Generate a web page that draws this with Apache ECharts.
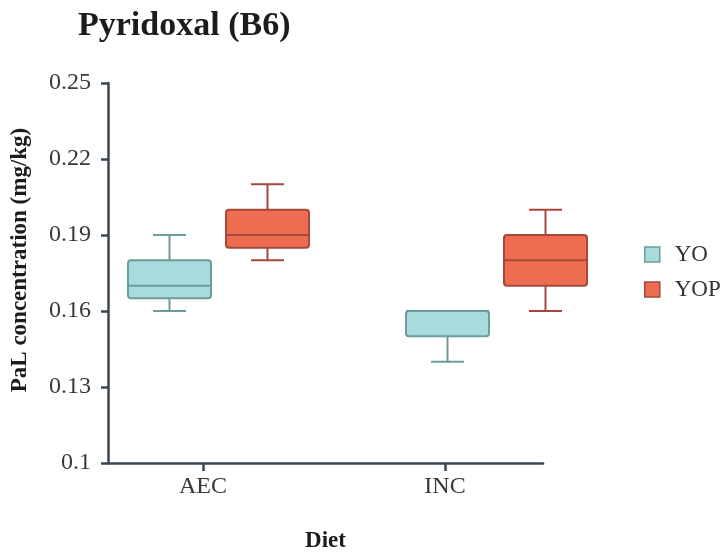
<!DOCTYPE html>
<html>
<head>
<meta charset="utf-8">
<script src="https://cdn.jsdelivr.net/npm/echarts@6/dist/echarts.min.js"></script>
<style>
  html, body { margin: 0; padding: 0; background: #ffffff; }
  #chart { width: 723px; height: 554px; }
</style>
</head>
<body>
<div id="chart"></div>
<script>
// ---- data ----
const categories = ['AEC', 'INC'];
const seriesNames = ['YO', 'YOP'];
// YO box statistics per category
const yoMin = [0.16, 0.14];
const yoQ1  = [0.165, 0.15];
const yoMed = [0.17, 0.16];
const yoQ3  = [0.18, 0.16];
const yoMax = [0.19, 0.16];
// YOP box statistics per category
const yopMin = [0.18, 0.16];
const yopQ1  = [0.185, 0.17];
const yopMed = [0.19, 0.18];
const yopQ3  = [0.20, 0.19];
const yopMax = [0.21, 0.20];
// y-axis tick labels
const yTicks = [0.1, 0.13, 0.16, 0.19, 0.22, 0.25];

// ---- styles ----
const FONT = 'Liberation Serif';
const AXIS_COLOR = '#3b4550';
const YO_FILL = '#a8dbdc', YO_STROKE = '#6e9c9c';
const YOP_FILL = '#ee6d51', YOP_STROKE = '#a4493b';
const BOX_W = 83, CAP_W = 33;

function rows(mins, q1s, meds, q3s, maxs) {
  return categories.map((c, i) => [i, mins[i], q1s[i], meds[i], q3s[i], maxs[i]]);
}

function makeRender(offset, fill, stroke) {
  return function (params, api) {
    const cat = api.value(0);
    const cx = api.coord([cat, api.value(1)])[0] + offset;
    const y = (k) => api.coord([cat, api.value(k)])[1];
    const yMin = y(1), yQ1 = y(2), yMed = y(3), yQ3 = y(4), yMax = y(5);
    const lw = 2;
    const line = (x1, y1, x2, y2) => ({
      type: 'line',
      shape: { x1, y1, x2, y2 },
      style: { stroke: stroke, lineWidth: lw }
    });
    return {
      type: 'group',
      children: [
        line(cx, yQ3, cx, yMax),
        line(cx - CAP_W / 2, yMax, cx + CAP_W / 2, yMax),
        line(cx, yQ1, cx, yMin),
        line(cx - CAP_W / 2, yMin, cx + CAP_W / 2, yMin),
        {
          type: 'rect',
          shape: { x: cx - BOX_W / 2, y: yQ3, width: BOX_W, height: yQ1 - yQ3, r: 3 },
          style: { fill: fill, stroke: stroke, lineWidth: lw }
        },
        line(cx - BOX_W / 2, yMed, cx + BOX_W / 2, yMed)
      ]
    };
  };
}

const chart = echarts.init(document.getElementById('chart'), null, { renderer: 'canvas' });

const option = {
  backgroundColor: '#ffffff',
  animation: false,
  title: {
    text: 'Pyridoxal (B6)',
    left: 73,
    top: 4,
    textStyle: { fontFamily: FONT, fontWeight: 'bold', fontSize: 34, color: '#1c1c1c' }
  },
  legend: {
    orient: 'vertical',
    left: 639,
    top: 238,
    itemWidth: 15,
    itemHeight: 15,
    itemGap: 12,
    textStyle: { fontFamily: FONT, fontSize: 23, color: '#333333', padding: [0, 0, 0, 10] },
    data: [
      { name: 'YO', icon: 'rect', itemStyle: { color: YO_FILL, borderColor: YO_STROKE, borderWidth: 1.5 } },
      { name: 'YOP', icon: 'rect', itemStyle: { color: YOP_FILL, borderColor: YOP_STROKE, borderWidth: 1.5 } }
    ]
  },
  grid: [
    { left: 108, top: 83, width: 435, height: 380, containLabel: false, outerBoundsMode: 'none' },   // visible frame
    { left: 82, top: 83, width: 484, height: 380, containLabel: false, outerBoundsMode: 'none' },    // visible category ticks/labels
    { left: 79.5, top: 83, width: 556, height: 380, containLabel: false, outerBoundsMode: 'none' }   // data placement
  ],
  xAxis: [
    {
      gridIndex: 0, type: 'value', min: 0, max: 1,
      axisLine: { show: true, lineStyle: { color: AXIS_COLOR, width: 2.5 } },
      axisTick: { show: false }, axisLabel: { show: false }, splitLine: { show: false },
      name: 'Diet', nameLocation: 'middle', nameGap: 67,
      nameTextStyle: { fontFamily: FONT, fontWeight: 'bold', fontSize: 23, color: '#1c1c1c' }
    },
    {
      gridIndex: 1, type: 'category', data: categories,
      axisLine: { show: false },
      axisTick: { show: true, alignWithLabel: true, length: 8, lineStyle: { color: AXIS_COLOR, width: 2.5 } },
      axisLabel: { fontFamily: FONT, fontSize: 24, color: '#383838', margin: 12 },
      splitLine: { show: false }
    },
    {
      gridIndex: 2, type: 'category', data: categories, show: false
    }
  ],
  yAxis: [
    {
      gridIndex: 0, type: 'value', min: 0.1, max: 0.25,
      axisLine: { show: true, lineStyle: { color: AXIS_COLOR, width: 2.5 } },
      axisTick: { show: true, length: 7, customValues: yTicks, lineStyle: { color: AXIS_COLOR, width: 2.5 } },
      axisLabel: { fontFamily: FONT, fontSize: 24, color: '#383838', margin: 17, customValues: yTicks },
      splitLine: { show: false },
      name: 'PaL concentration (mg/kg)', nameLocation: 'middle', nameGap: 76,
      nameTextStyle: { fontFamily: FONT, fontWeight: 'bold', fontSize: 23, color: '#1c1c1c', padding: [0, 0, 0, 26] }
    },
    { gridIndex: 1, type: 'value', min: 0.1, max: 0.25, show: false },
    { gridIndex: 2, type: 'value', min: 0.1, max: 0.25, show: false }
  ],
  series: [
    {
      name: 'YO', type: 'custom', xAxisIndex: 2, yAxisIndex: 2,
      itemStyle: { color: YO_FILL, borderColor: YO_STROKE },
      renderItem: makeRender(-49, YO_FILL, YO_STROKE),
      encode: { x: 0, y: [1, 2, 3, 4, 5] },
      data: rows(yoMin, yoQ1, yoMed, yoQ3, yoMax)
    },
    {
      name: 'YOP', type: 'custom', xAxisIndex: 2, yAxisIndex: 2,
      itemStyle: { color: YOP_FILL, borderColor: YOP_STROKE },
      renderItem: makeRender(49, YOP_FILL, YOP_STROKE),
      encode: { x: 0, y: [1, 2, 3, 4, 5] },
      data: rows(yopMin, yopQ1, yopMed, yopQ3, yopMax)
    }
  ]
};

chart.setOption(option);
</script>
</body>
</html>
